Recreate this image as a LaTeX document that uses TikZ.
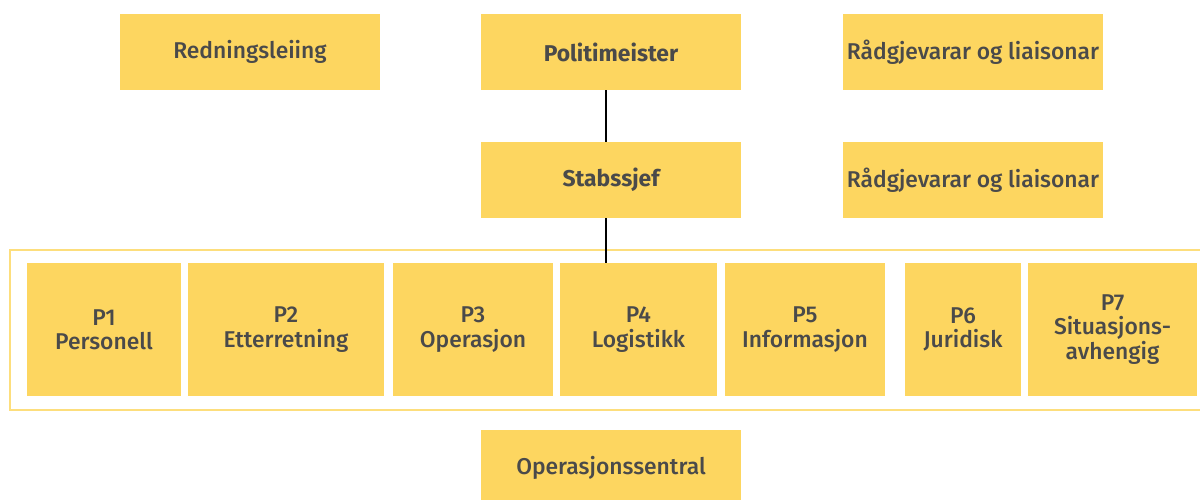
\documentclass[tikz,border=0pt]{standalone}
\usepackage{fontspec}
\setmainfont{Fira Sans}[UprightFont={* Medium}, BoldFont={* Bold}]
\usepackage{tikz}
\usetikzlibrary{positioning}
\usepackage{xcolor}

\definecolor{boxgul}{HTML}{FDD660}
\definecolor{rammegul}{HTML}{FDDE7C}
\definecolor{tekstgraa}{HTML}{4A4A4A}

\tikzset{
  boks/.style={fill=boxgul, text=tekstgraa, align=center, inner sep=0pt,
    minimum height=1.52cm, font=\fontsize{13}{13.8}\selectfont},
  pboks/.style={boks, minimum height=2.66cm},
  linje/.style={black, line width=1.1pt}
}

\begin{document}
\begin{tikzpicture}
\useasboundingbox (0,0) rectangle (24,9.98);
\clip (0,0) rectangle (24,9.98);

% toppnivaa
\node[boks, minimum width=5.2cm] (redning) at (5.0,8.94) {Redningsleiing};
\node[boks, minimum width=5.2cm] (polit) at (12.22,8.94) {\bfseries Politimeister};
\node[boks, minimum width=5.2cm] (raad1) at (19.46,8.94) {Rådgjevarar og liaisonar};

\node[boks, minimum width=5.2cm] (stab) at (12.22,6.38) {\bfseries Stabssjef};
\node[boks, minimum width=5.2cm] (raad2) at (19.46,6.38) {Rådgjevarar og liaisonar};

% ramme rundt P-funksjonane
\draw[rammegul, line width=1.5pt] (0.2,4.98) rectangle (24.3,1.78);

\node[pboks, minimum width=3.08cm] (p1) at (2.08,3.39) {P1\\Personell};
\node[pboks, minimum width=3.92cm] (p2) at (5.72,3.39) {P2\\Etterretning};
\node[pboks, minimum width=3.2cm] (p3) at (9.46,3.39) {P3\\Operasjon};
\node[pboks, minimum width=3.14cm] (p4) at (12.77,3.39) {P4\\Logistikk};
\node[pboks, minimum width=3.2cm] (p5) at (16.1,3.39) {P5\\Informasjon};
\node[pboks, minimum width=2.32cm] (p6) at (19.26,3.39) {P6\\Juridisk};
\node[pboks, minimum width=3.38cm] (p7) at (22.25,3.39) {P7\\Situasjons-\\avhengig};

\node[boks, minimum width=5.2cm] (opsentral) at (12.22,0.62) {Operasjonssentral};

\draw[linje] ([xshift=-0.1cm]polit.south) -- ([xshift=-0.1cm]stab.north);
\draw[linje] ([xshift=-0.1cm]stab.south) -- ([xshift=-0.1cm]stab.south |- p4.north);

\end{tikzpicture}
\end{document}
